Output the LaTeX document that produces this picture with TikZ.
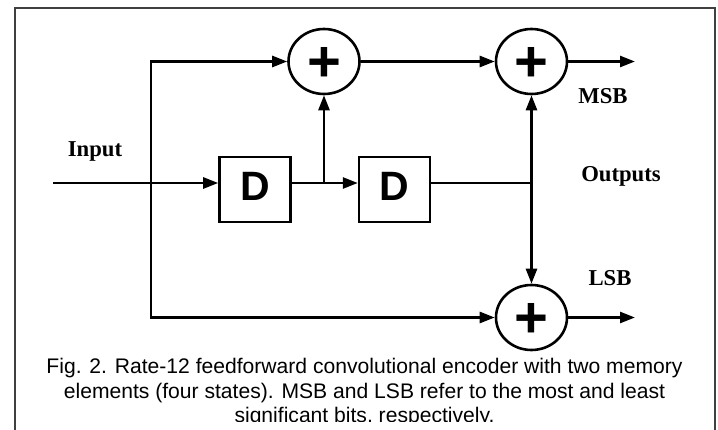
\documentclass[tikz,border=0pt]{standalone}
\usepackage{fontspec}
\setmainfont{Liberation Serif}
\setsansfont{Liberation Sans}
\usetikzlibrary{chains}
\usetikzlibrary{shapes.geometric, arrows.meta}

\begin{document}
\begin{tikzpicture}[
x=1pt,
y=-1pt,
start chain=1 going right,
node distance=66pt,
line width=2.6pt,
delay/.style={
	on chain=1,
	rectangle,
	draw=black,
	line width=2.6pt,
	font=\sffamily\bfseries\fontsize{41}{41}\selectfont,
	minimum width=71pt,
	minimum height=65pt,
	text depth=5.6pt,
	inner sep=0pt
},
adder/.style={
	ellipse,
	draw=black,
	line width=2.6pt,
	font=\sffamily\bfseries\fontsize{58}{58}\selectfont,
	minimum width=71pt,
	minimum height=65pt,
	text height=40pt,
	inner sep=0pt
},
label/.style={
	font=\rmfamily\bfseries\fontsize{22.7}{24}\selectfont,
	inner sep=0pt
},
caption/.style={
	font=\sffamily\fontsize{21.1}{24.6}\selectfont,
	align=center,
	inner sep=0pt
},
wire/.style={
	-{Triangle[length=15pt,width=11pt]}
}
]

\useasboundingbox (0,0) rectangle (718,430);

% Frame
\draw [black!75, line width=2pt] (15,430) -- (15,8) -- (715,8) -- (715,430);

% Blocks
\node [delay] (D1) at (255,189.5) {D};
\node [delay] (D2) {D};
\node [adder] (Add1) at (324,61.5) {+};
\node [adder] (Add2) at (531.5,61.5) {+};
\node [adder] (Add3) at (531.5,317.5) {+};

% Labels
\node [label] (Input) at (95,151) {Input};
\node [label] (MSB) at (603,96) {MSB};
\node [label] (Outputs) at (621,176) {Outputs};
\node [label] (LSB) at (610,278) {LSB};

% Free ends
\coordinate (in) at (53,183);
\coordinate (trunk) at (151,183);
\coordinate (tap) at (Add1 |- in);
\coordinate (join) at (Add2 |- in);
\coordinate (msb) at (635,61.5);
\coordinate (lsb) at (635,317.5);

% Connectors
\draw [wire] (in) -- (in -| D1.west);
\draw [wire] (trunk) |- (Add1);
\draw [wire] (trunk) |- (Add3);
\draw [wire] (tap) -- (Add1);
\draw [wire] (tap -| D1.east) -- (tap -| D2.west);
\draw (D2.east |- in) -- (join);
\draw [wire] (join) -- (Add2);
\draw [wire] (join) -- (Add3);
\draw [wire] (Add1) -- (Add2);
\draw [wire] (Add2) -- (msb);
\draw [wire] (Add3) -- (lsb);

% Caption
\begin{scope}
\clip (0,0) rectangle (718,422);
\node [caption, anchor=north] (Fig) at (364.5,357) {Fig. 2. Rate-12 feedforward convolutional encoder with two memory\\elements (four states). MSB and LSB refer to the most and least\\significant bits, respectively.};
\end{scope}

\end{tikzpicture}
\end{document}
